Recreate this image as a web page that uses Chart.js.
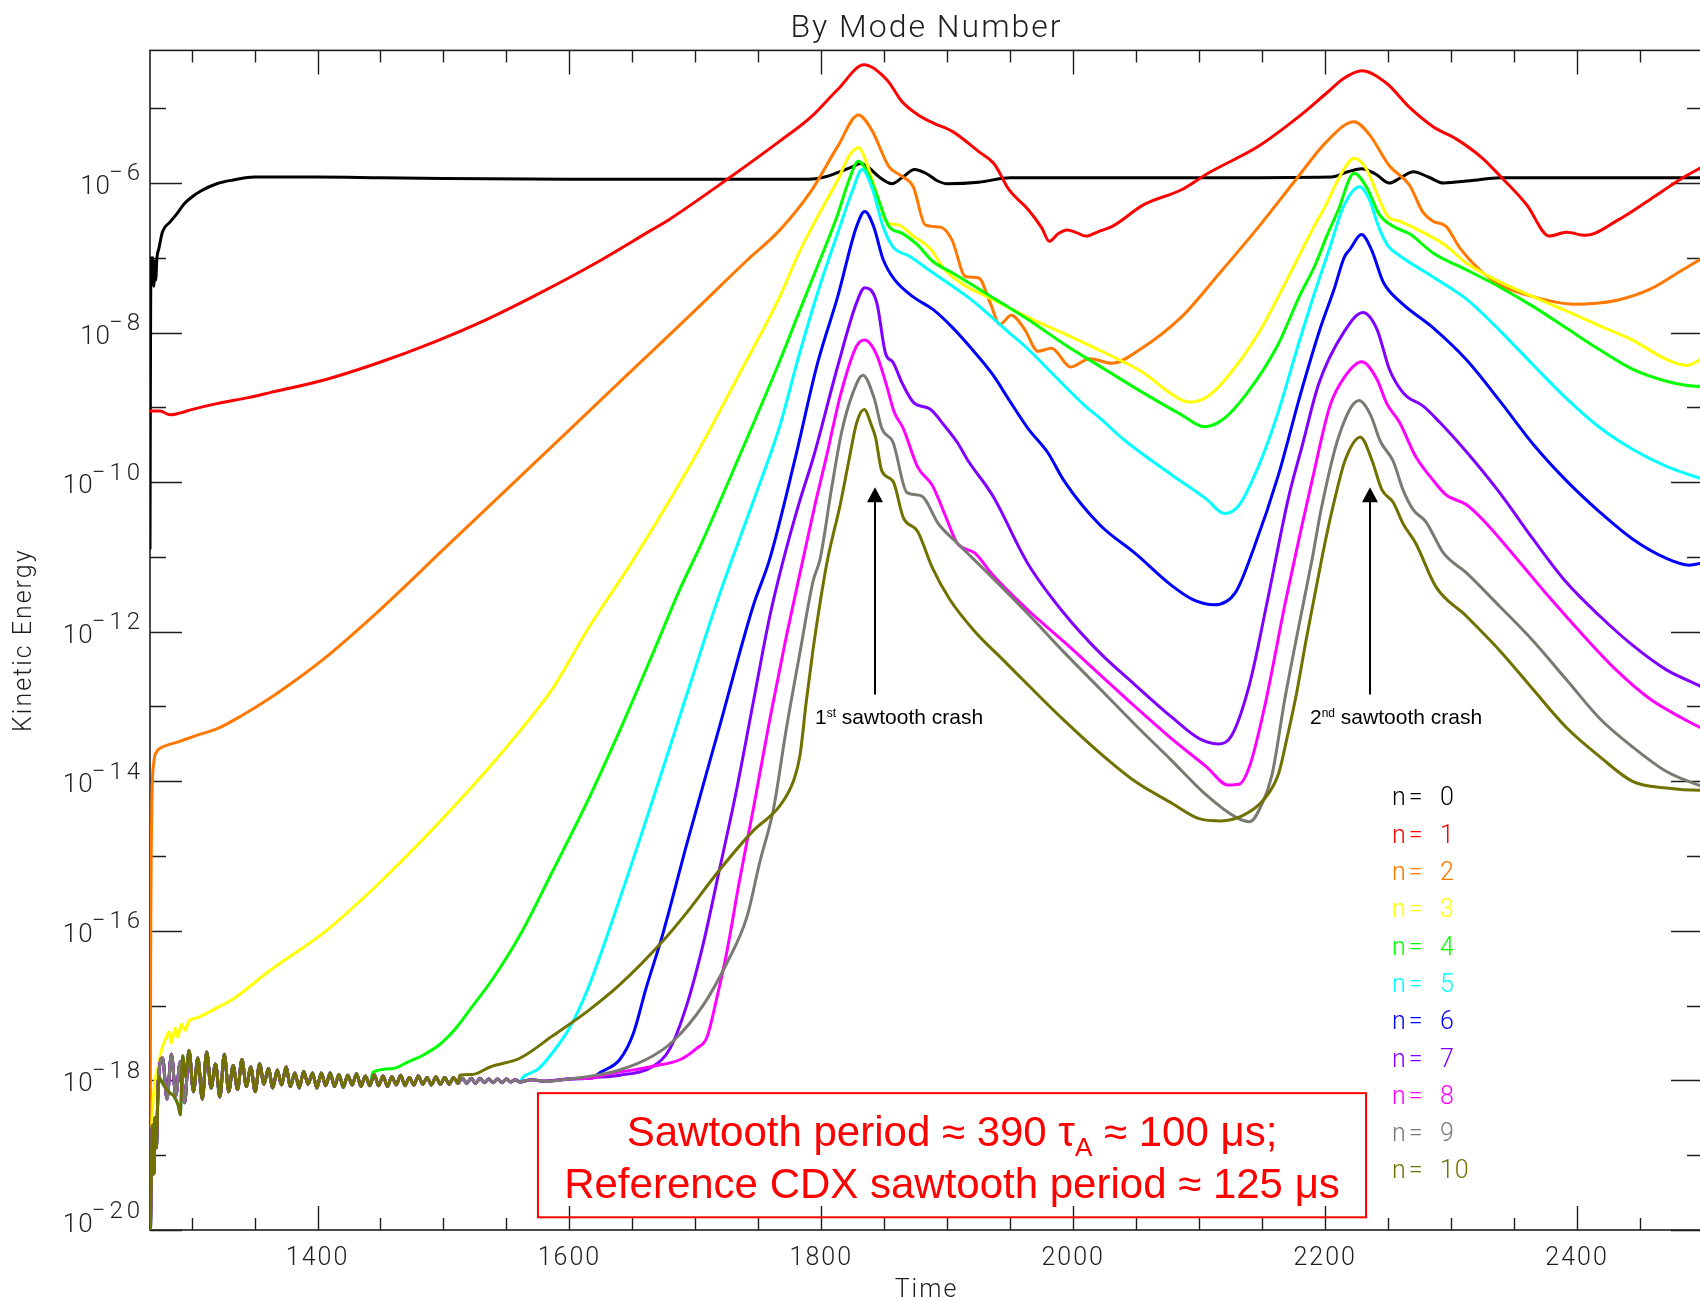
<!DOCTYPE html>
<html>
<head>
<meta charset="utf-8">
<title>By Mode Number</title>
<script src="https://cdn.jsdelivr.net/npm/chart.js@4.4.1/dist/chart.umd.min.js"></script>
<style>
  html, body { margin: 0; padding: 0; overflow: hidden; background: #ffffff; }
  #plot { position: absolute; left: 0; top: 0; }
</style>
</head>
<body>
<canvas id="plot" width="1712" height="1312"></canvas>
<script>
// Kinetic energy of each toroidal mode n versus time (Alfven times).
// Every series is a list of [time, log10(energy)] samples.
const modeNumbers = [0, 1, 2, 3, 4, 5, 6, 7, 8, 9, 10];
const modeColors = ['#000000', '#ff0000', '#ff7800', '#ffff00', '#00ff00', '#00ffff',
                    '#0000ff', '#8000ff', '#ff00ff', '#7a7a72', '#717100'];

const n0 = [[1267,-10.9],[1267.4,-8.2],[1267.8,-7.0],[1268.5,-7.35],[1269.2,-7.0],[1270,-7.38],
  [1270.8,-7.05],[1271.5,-7.3],[1272.5,-7.0],[1274,-6.88],[1277,-6.65],[1283,-6.52],[1288,-6.42],
  [1294,-6.28],[1300,-6.19],[1307,-6.11],[1320,-6.01],[1333,-5.96],[1350,-5.92],[1400,-5.92],
  [1450,-5.93],[1500,-5.94],[1600,-5.95],[1700,-5.95],[1790,-5.95],[1805,-5.91],[1816,-5.84],
  [1825,-5.78],[1831,-5.74],[1838,-5.8],[1846,-5.92],[1856,-6.01],[1864,-5.93],[1874,-5.82],
  [1884,-5.88],[1892,-5.97],[1900,-6.01],[1925,-5.99],[1950,-5.93],[2000,-5.93],[2100,-5.93],
  [2205,-5.92],[2218,-5.85],[2229,-5.81],[2240,-5.88],[2251,-6.0],[2260,-5.93],[2270,-5.85],
  [2282,-5.92],[2294,-6.0],[2315,-5.97],[2339,-5.93],[2400,-5.93],[2500,-5.93]];

const n1 = [[1267,-9.05],[1275,-9.05],[1283,-9.1],[1292,-9.07],[1300,-9.03],[1320,-8.95],
  [1345,-8.87],[1363,-8.8],[1406,-8.63],[1449,-8.4],[1492,-8.13],[1535,-7.82],[1578,-7.46],
  [1621,-7.07],[1664,-6.64],[1679,-6.49],[1727,-5.93],[1767,-5.44],[1791,-5.13],[1813,-4.75],
  [1834,-4.42],[1852,-4.62],[1864,-4.91],[1876,-5.08],[1889,-5.2],[1904,-5.31],[1925,-5.58],
  [1937,-5.74],[1949,-6.09],[1964.5,-6.36],[1975,-6.6],[1981,-6.78],[1988,-6.68],[1995,-6.63],
  [2002,-6.66],[2010,-6.71],[2020,-6.65],[2031,-6.58],[2056,-6.29],[2086,-6.09],[2107,-5.87],
  [2147,-5.51],[2177,-5.14],[2201,-4.8],[2215,-4.6],[2229,-4.5],[2249,-4.67],[2267,-4.99],
  [2286,-5.25],[2304,-5.41],[2325,-5.67],[2338.5,-5.9],[2360,-6.29],[2378,-6.71],[2391.5,-6.66],
  [2407,-6.7],[2431,-6.51],[2458,-6.22],[2484,-5.93],[2500,-5.78]];

const n2 = [[1267,-20.5],[1267.5,-16.5],[1268.5,-14.3],[1270,-13.75],[1272.5,-13.6],[1276,-13.55],
  [1290,-13.47],[1307,-13.37],[1320,-13.3],[1340,-13.12],[1363,-12.88],[1385,-12.62],[1406,-12.35],
  [1450,-11.7],[1500,-10.9],[1550,-10.1],[1600,-9.3],[1650,-8.5],[1700,-7.7],[1740,-7.05],
  [1767,-6.63],[1791,-6.13],[1813,-5.51],[1829.4,-5.09],[1840,-5.29],[1853.6,-5.78],[1864,-5.91],
  [1873,-6.05],[1882.5,-6.56],[1894.6,-6.59],[1903.7,-6.76],[1914.4,-7.25],[1925,-7.27],[1934,-7.6],
  [1941.7,-7.89],[1950.8,-7.77],[1961.5,-7.96],[1972,-8.25],[1982.7,-8.21],[1998,-8.46],[2013,-8.35],
  [2031,-8.41],[2052.6,-8.23],[2086,-7.79],[2116,-7.21],[2147,-6.59],[2177,-5.95],[2201,-5.45],
  [2223,-5.18],[2235,-5.35],[2251,-5.77],[2267,-6.03],[2277.6,-6.39],[2285.6,-6.51],[2296,-6.58],
  [2307,-6.87],[2322.6,-7.16],[2338.5,-7.36],[2365,-7.52],[2397,-7.62],[2431,-7.57],[2458,-7.42],
  [2484,-7.16],[2500,-7.0]];

const n3 = [[1267.5,-19.2],[1269,-18.4],[1271,-18.0],[1273,-17.85],[1276,-17.6],[1280,-17.42],
  [1282,-17.35],[1284,-17.5],[1287,-17.3],[1289,-17.42],[1292,-17.25],[1295,-17.33],[1298,-17.2],
  [1303,-17.17],[1310,-17.12],[1320,-17.03],[1333,-16.91],[1363,-16.52],[1406,-16.01],[1449,-15.36],
  [1492,-14.63],[1535,-13.84],[1561,-13.32],[1587,-12.75],[1614,-11.98],[1651,-11.03],[1700,-9.65],
  [1735,-8.55],[1767,-7.52],[1782,-6.94],[1797,-6.45],[1813,-5.96],[1822,-5.64],[1829.4,-5.53],
  [1837,-5.78],[1844.5,-6.18],[1852,-6.53],[1861,-6.56],[1873,-6.71],[1886,-6.87],[1898,-7.16],
  [1913,-7.36],[1934,-7.54],[1964.5,-7.8],[1995,-8.03],[2025,-8.27],[2056,-8.54],[2077,-8.81],
  [2092,-8.93],[2107,-8.85],[2122.5,-8.59],[2147,-8.01],[2177,-7.05],[2190,-6.62],[2201,-6.28],
  [2212,-5.9],[2223,-5.67],[2233,-5.82],[2243,-6.22],[2250,-6.45],[2259,-6.51],[2280,-6.68],
  [2296,-6.84],[2312,-7.07],[2338.5,-7.32],[2365,-7.52],[2391.5,-7.71],[2418,-7.91],[2444,-8.1],
  [2471,-8.36],[2487,-8.44],[2498,-8.36],[2500,-8.34]];

const n4 = [[1444,-17.89],[1460,-17.84],[1471,-17.76],[1484,-17.66],[1497,-17.52],[1510,-17.3],
  [1522,-17.03],[1540,-16.62],[1561,-16.05],[1587,-15.19],[1614,-14.28],[1640,-13.32],
  [1666.5,-12.28],[1688,-11.42],[1704,-10.85],[1735,-9.65],[1767,-8.38],[1782,-7.74],[1797,-7.11],
  [1813,-6.42],[1822,-5.96],[1829.4,-5.71],[1837,-5.87],[1844.5,-6.18],[1853.6,-6.58],[1864,-6.67],
  [1876,-6.82],[1888.6,-7.05],[1904,-7.2],[1934,-7.51],[1964.5,-7.83],[1995,-8.18],[2025,-8.49],
  [2056,-8.81],[2086,-9.1],[2104,-9.26],[2119,-9.16],[2138,-8.81],[2162,-8.18],[2180,-7.5],
  [2192,-7.1],[2201,-6.72],[2210,-6.38],[2223,-5.87],[2233,-6.06],[2243,-6.42],[2254,-6.58],
  [2267,-6.68],[2286,-6.94],[2312,-7.16],[2338.5,-7.39],[2365,-7.65],[2391.5,-7.94],[2418,-8.23],
  [2444,-8.49],[2471,-8.65],[2498,-8.72],[2500,-8.72]];

const n5 = [[1563,-17.96],[1575,-17.85],[1587,-17.62],[1600,-17.3],[1614,-16.8],[1640,-15.57],
  [1666.5,-14.23],[1693,-12.85],[1719,-11.51],[1745,-10.3],[1767,-9.25],[1782,-8.32],[1797,-7.47],
  [1813,-6.67],[1825,-6.09],[1832.4,-5.82],[1840,-6.05],[1849,-6.58],[1856.7,-6.85],[1870,-6.98],
  [1888.6,-7.2],[1919,-7.56],[1949,-8.0],[1964,-8.22],[1980,-8.49],[2010,-8.99],[2021,-9.14],
  [2040,-9.43],[2078,-9.9],[2106,-10.23],[2120,-10.42],[2132,-10.3],[2148,-9.75],[2163,-9.05],
  [2178,-8.2],[2191,-7.5],[2203,-6.9],[2215,-6.3],[2227.4,-6.05],[2235,-6.22],[2243,-6.61],
  [2250,-6.84],[2259,-6.97],[2286,-7.26],[2312,-7.55],[2338.5,-7.97],[2365,-8.43],[2391.5,-8.88],
  [2418,-9.27],[2444,-9.56],[2471,-9.79],[2498,-9.95],[2500,-9.96]];

const n6 = [[1621.5,-17.93],[1640,-17.72],[1650.6,-17.38],[1661,-16.76],[1674,-16.05],[1693,-14.85],
  [1719,-13.28],[1746,-11.65],[1759,-11.03],[1779,-9.7],[1797,-8.41],[1813,-7.52],[1828,-6.58],
  [1834.5,-6.38],[1841.5,-6.58],[1849,-7.02],[1858,-7.29],[1873.5,-7.53],[1888.6,-7.69],[1904,-7.93],
  [1919,-8.21],[1936,-8.56],[1949,-8.9],[1964,-9.28],[1980,-9.61],[1993,-9.99],[2021,-10.57],
  [2049,-10.95],[2078,-11.38],[2095,-11.57],[2112,-11.64],[2129,-11.47],[2143,-10.9],[2163,-9.9],
  [2180,-8.85],[2196,-7.95],[2207.5,-7.4],[2215,-7.0],[2220,-6.88],[2228.8,-6.69],[2237,-6.9],
  [2246,-7.32],[2259,-7.58],[2286,-7.94],[2312,-8.36],[2338.5,-8.91],[2365,-9.49],[2391.5,-9.98],
  [2418,-10.4],[2444,-10.76],[2471,-11.02],[2489,-11.11],[2500,-11.08]];

const n7 = [[1640,-17.93],[1666.5,-17.81],[1680,-17.57],[1693,-17.0],[1706,-16.19],[1719,-15.19],
  [1733,-14.09],[1746,-12.94],[1759,-11.8],[1770,-11.03],[1782,-10.3],[1794,-9.65],[1813,-8.45],
  [1828,-7.6],[1834.5,-7.4],[1844,-7.6],[1851,-8.28],[1857,-8.4],[1864,-8.67],[1873.5,-8.94],
  [1886,-9.02],[1898,-9.25],[1908,-9.47],[1916,-9.7],[1936,-10.18],[1964,-11.09],[1993,-11.76],
  [2021,-12.28],[2049,-12.71],[2078,-13.14],[2100,-13.43],[2115,-13.5],[2126,-13.38],[2140,-12.7],
  [2154,-11.6],[2171,-10.2],[2182,-9.5],[2195,-8.68],[2215,-7.99],[2230,-7.73],[2241,-7.95],
  [2251,-8.49],[2256,-8.66],[2264.5,-8.85],[2277.6,-8.98],[2291,-9.2],[2312,-9.59],[2338.5,-10.14],
  [2365,-10.76],[2391.5,-11.34],[2418,-11.79],[2444,-12.18],[2471,-12.51],[2498,-12.73],[2500,-12.75]];

const n8 = [[1627,-17.93],[1666.5,-17.81],[1688,-17.72],[1701,-17.57],[1709,-17.43],[1717,-16.9],
  [1725,-16.28],[1735,-15.33],[1746,-14.37],[1759,-13.18],[1772,-12.08],[1785.5,-11.03],[1795,-10.3],
  [1803.5,-9.7],[1815.6,-8.81],[1828,-8.18],[1834.5,-8.1],[1844,-8.3],[1852,-8.72],[1858,-9.07],
  [1865,-9.28],[1876.5,-9.8],[1888,-10.04],[1899,-10.47],[1907.6,-10.81],[1922,-10.95],[1936,-11.24],
  [1964,-11.71],[1993,-12.14],[2021,-12.57],[2049,-13.0],[2078,-13.43],[2106,-13.81],[2123,-14.05],
  [2131.6,-14.04],[2140,-13.8],[2152,-13.0],[2168.5,-11.6],[2180,-10.7],[2190,-9.95],[2204,-8.97],
  [2216,-8.58],[2229,-8.39],[2241,-8.62],[2249,-8.95],[2259,-9.2],[2272,-9.66],[2286,-9.98],
  [2296,-10.17],[2312,-10.3],[2325,-10.5],[2352,-11.02],[2378,-11.54],[2405,-12.05],[2431,-12.51],
  [2458,-12.9],[2484,-13.16],[2500,-13.3]];

const n9 = [[1614,-17.95],[1640,-17.86],[1666.5,-17.67],[1682,-17.48],[1706,-17.0],[1725,-16.43],
  [1741,-15.81],[1751,-15.09],[1762,-14.37],[1772,-13.32],[1783,-12.28],[1793.5,-11.32],[1799,-11.03],
  [1808,-10.1],[1816,-9.34],[1825,-8.81],[1833,-8.57],[1842,-8.88],[1848,-9.28],[1857,-9.47],
  [1868,-10.14],[1879,-10.18],[1893.5,-10.57],[1907.6,-10.81],[1936,-11.28],[1964,-11.76],
  [1993,-12.28],[2021,-12.76],[2049,-13.24],[2078,-13.72],[2106,-14.19],[2129,-14.48],[2140,-14.54],
  [2150,-14.3],[2158,-13.9],[2168,-12.9],[2180,-11.85],[2190,-11.0],[2197,-10.35],[2211,-9.38],
  [2227,-8.91],[2236,-9.1],[2244,-9.46],[2254,-9.72],[2262,-10.11],[2270,-10.37],[2280,-10.53],
  [2294,-10.95],[2312,-11.21],[2338.5,-11.66],[2365,-12.12],[2391.5,-12.64],[2418,-13.16],
  [2444,-13.54],[2471,-13.87],[2498,-14.06],[2500,-14.07]];

const n10 = [[1513,-17.93],[1523,-17.92],[1537,-17.82],[1561,-17.7],[1587,-17.4],[1614,-17.08],
  [1640,-16.72],[1674,-16.14],[1693,-15.76],[1719,-15.19],[1746,-14.66],[1767,-14.33],[1778,-13.99],
  [1783,-13.66],[1788,-12.94],[1793.5,-12.23],[1800,-11.51],[1805,-11.03],[1815,-10.3],[1822,-9.7],
  [1828,-9.21],[1834,-9.03],[1840,-9.25],[1843,-9.4],[1848,-9.85],[1857,-9.99],[1865,-10.47],
  [1876.5,-10.66],[1888,-11.14],[1902,-11.57],[1922,-12.0],[1944.5,-12.38],[1964,-12.71],
  [1993,-13.19],[2021,-13.62],[2049,-14.0],[2078,-14.29],[2100,-14.5],[2117,-14.53],[2134.5,-14.46],
  [2151.5,-14.24],[2163,-13.9],[2170,-13.4],[2177,-12.85],[2185,-12.1],[2193,-11.4],[2200,-10.8],
  [2208,-10.2],[2216,-9.7],[2228,-9.4],[2237,-9.7],[2245,-10.1],[2254,-10.27],[2262,-10.56],
  [2272,-10.82],[2288,-11.4],[2312,-11.79],[2338.5,-12.25],[2365,-12.77],[2391.5,-13.28],
  [2418,-13.67],[2444,-14.0],[2471,-14.09],[2497.6,-14.12],[2500,-14.12]];

// Shared noise floor of the high-n modes before each one starts to grow.
const floorNoise = [[1267,-20.5],[1268,-19.3],[1269,-18.6],[1270,-19.25],[1271,-18.5],[1272,-18.9],
  [1273.5,-18.05],[1277,-17.7],[1280.5,-18.25],[1284,-17.65],[1287.5,-18.2],[1291,-17.75],
  [1294.5,-18.3],[1298,-17.6],[1301.5,-18.15],[1305,-17.7],[1308.5,-18.25],[1312,-17.62],
  [1315.5,-18.1],[1319,-17.78],[1322.5,-18.22],[1326,-17.65],[1329.5,-18.15],[1333,-17.8],
  [1336.5,-18.12],[1340,-17.72],[1343.5,-18.08],[1347,-17.82],[1350.5,-18.15],[1354,-17.78],
  [1357.5,-18.05],[1361,-17.84],[1364.5,-18.1],[1368,-17.86],[1371.5,-18.06],[1375,-17.82],
  [1378.5,-18.08],[1382,-17.9],[1385.5,-18.1],[1389,-17.88],[1392.5,-18.05],[1396,-17.9],
  [1399.5,-18.1],[1403,-17.9],[1406.5,-18.07],[1410,-17.9],[1413.5,-18.08],[1417,-17.92],
  [1420.5,-18.09],[1424,-17.93],[1427.5,-18.06],[1431,-17.91],[1434.5,-18.08],[1438,-17.94],
  [1441.5,-18.07],[1445,-17.92],[1448.5,-18.07],[1452,-17.94],[1455.5,-18.08],[1459,-17.95],
  [1462.5,-18.06],[1466,-17.93],[1469.5,-18.07],[1473,-17.96],[1476.5,-18.06],[1480,-17.94],
  [1483.5,-18.05],[1487,-17.96],[1490.5,-18.06],[1494,-17.95],[1497.5,-18.05],[1501,-17.96],
  [1504.5,-18.05],[1508,-17.96],[1511.5,-18.04],[1515,-17.97],[1518.5,-18.04],[1522,-17.97],
  [1525.5,-18.04],[1529,-17.97],[1532.5,-18.03],[1536,-17.98],[1539.5,-18.03],[1543,-17.98],
  [1546.5,-18.03],[1550,-17.98],[1553.5,-18.02],[1557,-17.99],[1560.5,-18.02],[1570,-17.99],
  [1580,-18.01],[1600,-17.98],[1620,-17.96],[1640,-17.95]];

// Separate early transient followed by modes 5 and 10.
const earlyDip = [[1274,-17.95],[1276,-18.01],[1281,-18.14],[1286,-18.21],[1289.5,-18.34],
  [1291,-18.46],[1293,-17.67],[1295,-17.95]];

const xTickLabels = [1400, 1600, 1800, 2000, 2200, 2400];
const yTickExponents = [-20, -18, -16, -14, -12, -10, -8, -6];
const crashTimes = [1842.5, 2235.5];
const crashLabels = [['1', 'st', ' sawtooth crash'], ['2', 'nd', ' sawtooth crash']];
const noteLines = [
  ['Sawtooth period \u2248 390 \u03c4', 'A', ' \u2248 100 \u03bcs;'],
  ['Reference CDX sawtooth period \u2248 125 \u03bcs']
];

const ownPoints = [n0, n1, n2, n3, n4, n5, n6, n7, n8, n9, n10];
const growsFromFloor = [false, false, false, false, true, true, true, true, true, true, true];
const followsDip = [5, 10];

function seriesPoints(k) {
  const own = ownPoints[k];
  let pts = own;
  if (growsFromFloor[k]) {
    const t0 = own[0][0];
    let base = floorNoise.filter(p => p[0] < t0);
    if (followsDip.includes(k)) {
      const a = earlyDip[0][0], b = earlyDip[earlyDip.length - 1][0];
      base = base.filter(p => p[0] < a).concat(earlyDip, base.filter(p => p[0] > b));
    }
    pts = base.concat(own);
  }
  return pts.map(([t, e]) => ({ x: t, y: Math.pow(10, e) }));
}

const UI = '"Roboto", "Liberation Sans", "DejaVu Sans", sans-serif';
const ARIAL = '"Liberation Sans", Arial, sans-serif';
const INK = '#1e1e1e';

// Frame, inward tick marks, exponent labels, legend and annotations.
const framePlugin = {
  id: 'frame',
  beforeDraw(chart) { chart.ctx.letterSpacing = '2px'; },
  beforeDatasetsDraw(chart) {
    const { ctx, chartArea: a, scales: { x, y } } = chart;
    ctx.save();
    ctx.letterSpacing = '0px';
    ctx.strokeStyle = INK;
    ctx.lineWidth = 1.6;
    ctx.strokeRect(a.left, a.top, a.right - a.left, a.bottom - a.top);

    ctx.lineWidth = 1.4;
    ctx.beginPath();
    for (let v = 1300; v <= x.max; v += 50) {
      const px = Math.round(x.getPixelForValue(v)) + 0.5;
      const len = v % 200 === 0 ? 24 : 12;
      ctx.moveTo(px, a.bottom); ctx.lineTo(px, a.bottom - len);
      ctx.moveTo(px, a.top); ctx.lineTo(px, a.top + len);
    }
    for (let e = -20; e <= -4; e++) {
      const py = y.getPixelForValue(Math.pow(10, e));
      if (py < a.top) continue;
      const len = e % 2 === 0 ? 32 : 16;
      const yy = Math.round(py) + 0.5;
      ctx.moveTo(a.left, yy); ctx.lineTo(a.left + len, yy);
      ctx.moveTo(a.right, yy); ctx.lineTo(a.right - len, yy);
    }
    ctx.stroke();

    // 10^n labels on the left axis
    ctx.fillStyle = INK;
    ctx.textAlign = 'right';
    ctx.textBaseline = 'alphabetic';
    yTickExponents.forEach(e => {
      const py = y.getPixelForValue(Math.pow(10, e));
      const mid = Math.min(py + 1.5, a.bottom - 8);
      const sup = '\u2212' + Math.abs(e);
      const right = a.left - 10;
      ctx.font = '300 24px ' + UI;
      ctx.letterSpacing = '4px';
      ctx.fillText(sup, right + 4, mid - 4);
      const w = ctx.measureText(sup).width;
      ctx.font = '300 26px ' + UI;
      ctx.letterSpacing = '1px';
      ctx.fillText('10', right - w + 6, mid + 9.5);
    });
    ctx.restore();
  },
  afterDatasetsDraw(chart) {
    const { ctx, chartArea: a, scales: { x, y } } = chart;
    const Y = e => y.getPixelForValue(Math.pow(10, e));
    ctx.save();
    ctx.letterSpacing = '0px';

    // legend
    ctx.textAlign = 'left';
    ctx.textBaseline = 'alphabetic';
    ctx.font = '300 25px ' + UI;
    modeNumbers.forEach((n, k) => {
      const base = a.top + 755 + 37.3 * k;
      ctx.fillStyle = modeColors[k];
      ctx.letterSpacing = '3px';
      ctx.fillText('n=', a.left + 1242, base);
      ctx.letterSpacing = '1px';
      ctx.fillText(String(n), a.left + 1290, base);
    });
    ctx.letterSpacing = '0px';

    // crash markers
    crashTimes.forEach((t, i) => {
      const px = Math.round(x.getPixelForValue(t));
      const tip = Y(-10.07), foot = Y(-12.84);
      ctx.fillStyle = '#000';
      ctx.strokeStyle = '#000';
      ctx.lineWidth = 2;
      ctx.beginPath();
      ctx.moveTo(px, tip + 12); ctx.lineTo(px, foot);
      ctx.stroke();
      ctx.beginPath();
      ctx.moveTo(px, tip); ctx.lineTo(px - 8, tip + 15); ctx.lineTo(px + 8, tip + 15);
      ctx.closePath(); ctx.fill();

      const [num, ord, rest] = crashLabels[i];
      const base = Y(-13.24);
      let cx = px - 60;
      ctx.font = '21px ' + ARIAL;
      ctx.fillText(num, cx, base); cx += ctx.measureText(num).width;
      ctx.font = '12px ' + ARIAL;
      ctx.fillText(ord, cx, base - 7); cx += ctx.measureText(ord).width;
      ctx.font = '21px ' + ARIAL;
      ctx.fillText(rest, cx, base);
    });

    // note box
    const bx1 = x.getPixelForValue(1575), bx2 = x.getPixelForValue(2232.5);
    const by1 = Y(-18.17), by2 = Y(-19.83);
    ctx.strokeStyle = '#ff0000';
    ctx.lineWidth = 2;
    ctx.strokeRect(bx1, by1, bx2 - bx1, by2 - by1);
    ctx.fillStyle = '#ff0000';
    const cxm = (bx1 + bx2) / 2;
    const drawLine = (parts, base) => {
      const spec = parts.map((t, j) => ({ t, sub: parts.length === 3 && j === 1 }));
      let total = 0;
      spec.forEach(s => { ctx.font = (s.sub ? '26px ' : '42px ') + ARIAL; s.w = ctx.measureText(s.t).width; total += s.w; });
      let cx = cxm - total / 2;
      spec.forEach(s => {
        ctx.font = (s.sub ? '26px ' : '42px ') + ARIAL;
        ctx.fillText(s.t, cx, base + (s.sub ? 10 : 0));
        cx += s.w;
      });
    };
    drawLine(noteLines[0], by1 + 52.5);
    drawLine(noteLines[1], by1 + 105);
    ctx.restore();
  },
  afterDraw(chart) { chart.ctx.letterSpacing = '0px'; }
};

new Chart(document.getElementById('plot'), {
  type: 'line',
  data: {
    datasets: modeNumbers.map((n, k) => ({
      label: 'n= ' + n,
      data: seriesPoints(k),
      borderColor: modeColors[k],
      borderWidth: 3,
      pointRadius: 0,
      cubicInterpolationMode: 'monotone',
      fill: false,
      borderJoinStyle: 'round',
      order: 10 - k
    }))
  },
  options: {
    responsive: false,
    animation: false,
    layout: { padding: { left: 0, right: 9, top: 0, bottom: 0 } },
    plugins: {
      legend: { display: false },
      tooltip: { enabled: false },
      title: {
        display: true,
        fullSize: false,
        text: 'By Mode Number',
        color: INK,
        font: { family: UI, size: 32, weight: 300 },
        padding: { top: 10, bottom: 2 }
      }
    },
    scales: {
      x: {
        type: 'linear',
        position: 'bottom',
        min: 1267,
        max: 2500,
        afterBuildTicks: s => { s.ticks = xTickLabels.map(v => ({ value: v })); },
        afterFit: s => { s.height = 82; },
        grid: { display: false, drawTicks: false },
        border: { display: false },
        ticks: {
          autoSkip: false, maxRotation: 0, padding: 14, color: INK,
          font: { family: UI, size: 25, weight: 300 },
          callback: v => String(v)
        },
        title: {
          display: true, text: 'Time', color: INK,
          font: { family: UI, size: 25, weight: 300 },
          padding: { top: 0, bottom: 6 }
        }
      },
      y: {
        type: 'logarithmic',
        min: 1e-20,
        max: Math.pow(10, -4.227),
        afterFit: s => { s.width = 150; },
        grid: { display: false, drawTicks: false },
        border: { display: false },
        ticks: { display: false },
        title: {
          display: true, text: 'Kinetic Energy', color: INK,
          font: { family: UI, size: 25, weight: 300 },
          padding: { top: 10, bottom: 0 }
        }
      }
    }
  },
  plugins: [framePlugin]
});
</script>
</body>
</html>
